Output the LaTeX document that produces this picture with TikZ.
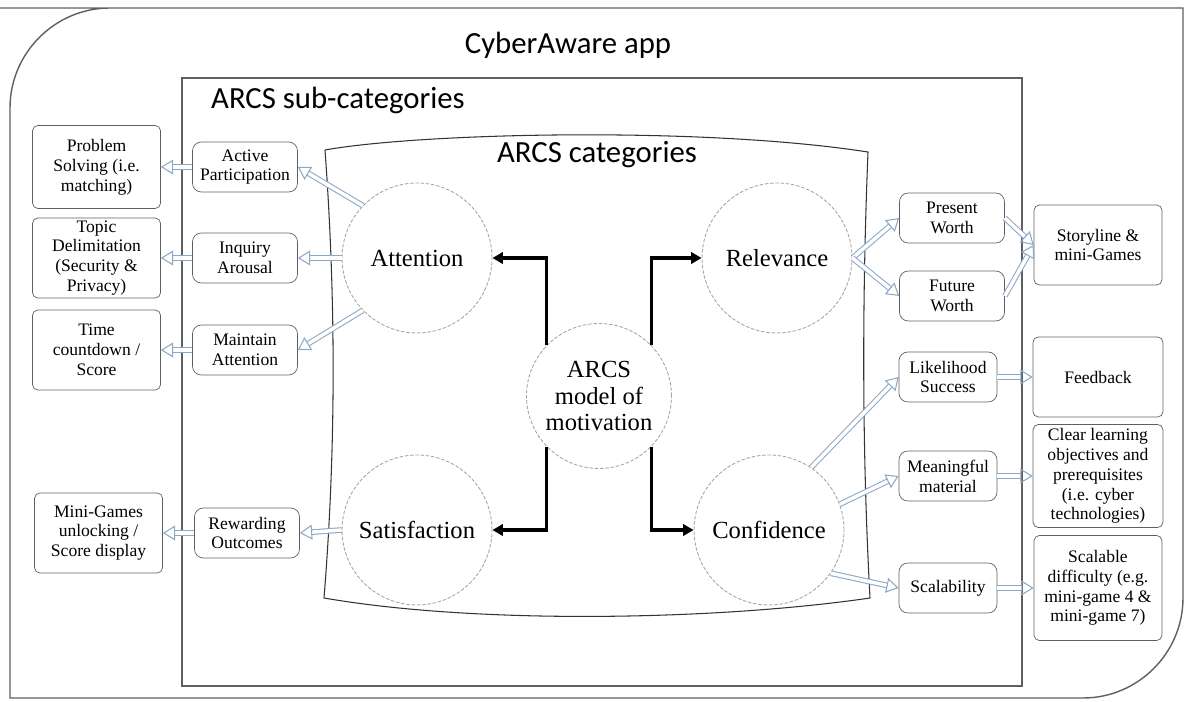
\documentclass[tikz,border=0pt]{standalone}
\usepackage{fontspec}
\setmainfont{Liberation Serif}
\newfontfamily\headfont{Carlito}
\usetikzlibrary{arrows.meta,positioning}
\definecolor{holblue}{RGB}{140,168,198}
\definecolor{boxgray}{RGB}{95,95,95}

\begin{document}
\begin{tikzpicture}[x=0.02cm,y=-0.02cm,on grid,
   cat/.style={circle,draw=gray!70,dash pattern=on 2pt off 1pt,line width=0.5pt,
               minimum size=3cm,inner sep=0pt,align=center,font=\fontsize{14}{15}\selectfont},
   sub/.style={draw=boxgray,rounded corners=5pt,minimum width=2.1cm,minimum height=1cm,
               inner sep=1pt,align=center,font=\fontsize{10}{11.3}\selectfont},
   game/.style={draw=boxgray,rounded corners=3pt,minimum width=2.56cm,minimum height=1.6cm,
               inner sep=1pt,align=center,font=\fontsize{10}{11.3}\selectfont},
   hol/.style={draw=holblue,line width=0.6pt,double=white,double distance=2pt,
               -{Triangle[open,length=7pt,width=8.5pt]}},
   blk/.style={line width=2pt,-{Triangle[length=6pt,width=6.5pt]}},
   title/.style={font=\headfont\fontsize{17.5}{20}\selectfont}]
   \useasboundingbox (0,0) rectangle (1188,702);

   % frames
   \draw[boxgray,line width=0.8pt] (0,8) -- (1183,8) -- (1183,598)
        .. controls (1183,653) and (1138,698) .. (1083,698) -- (10,698) -- (10,108)
        .. controls (10,53) and (55,8) .. (110,8);
   \draw[boxgray,line width=0.7pt] (182,78) rectangle (1022,686);
   \draw[black!80,line width=0.6pt] (325,150) .. controls (420,133) and (700,126) .. (868,152)
        .. controls (862,300) and (862,450) .. (870,598)
        .. controls (720,620) and (480,625) .. (324,598)
        .. controls (336,450) and (336,300) .. (325,150);

   \node[title] (app) at (568,45) {CyberAware app};
   \node[title,anchor=west] (subt) at (205,100) {ARCS sub-categories};
   \node[title] (catt) at (597,155) {ARCS categories};

   % categories
   \node[cat] (att) at (417,258) {Attention};
   \node[cat] (rel) at (777,258) {Relevance};
   \node[cat,minimum size=2.9cm] (arcs) at (599,396) {ARCS\\model of\\motivation};
   \node[cat] (sat) at (417,530) {Satisfaction};
   \node[cat] (con) at (769,530) {Confidence};

   % sub-categories
   \node[sub] (ap) at (245,167) {Active\\Participation};
   \node[sub] (ia) at (245,258) {Inquiry\\Arousal};
   \node[sub] (ma) at (245,350) {Maintain\\Attention};
   \node[sub] (ro) at (247,533) {Rewarding\\Outcomes};
   \node[sub] (pw) at (952,218) {Present\\Worth};
   \node[sub] (fw) at (952,296) {Future\\Worth};
   \node[sub,minimum width=1.96cm] (ls) at (948,377) {Likelihood\\Success};
   \node[sub,minimum width=1.96cm] (mm) at (948,476) {Meaningful\\material};
   \node[sub,minimum width=1.96cm] (sc) at (948,588) {Scalability};

   % app features
   \node[game,minimum height=1.66cm] (ps) [left=2.97cm of ap] {Problem\\Solving (i.e.\\matching)};
   \node[game] (td) [left=2.97cm of ia] {Topic\\Delimitation\\(Security \&\\Privacy)};
   \node[game] (tc) [left=2.97cm of ma] {Time\\countdown /\\Score};
   \node[game] (mg) [left=2.97cm of ro] {Mini-Games\\unlocking /\\Score display};
   \node[game] (sm) at (1098,245) {Storyline \&\\mini-Games};
   \node[game,minimum width=2.6cm] (fb) [right=3cm of ls] {Feedback};
   \node[game,minimum width=2.6cm,minimum height=2.06cm] (cl) [right=3cm of mm]
        {Clear learning\\objectives and\\prerequisites\\(i.e. cyber\\technologies)};
   \node[game,minimum height=2.1cm] (sd) [right=3cm of sc]
        {Scalable\\difficulty (e.g.\\mini-game 4 \&\\mini-game 7)};

   \draw[blk] (arcs.136) |- (att);
   \draw[blk] (arcs.44) |- (rel);
   \draw[blk] (arcs.224) |- (sat);
   \draw[blk] (arcs.-44) |- (con);

   \path
    (att.136) edge[hol] (ap.east)
    (att.west) edge[hol] (ia.east)
    (att.224) edge[hol] (ma.east)
    (sat.west) edge[hol] (ro.east)
    (ap) edge[hol] (ps)
    (ia) edge[hol] (td)
    (ma) edge[hol] (tc)
    (ro) edge[hol] (mg)
    (rel.east) edge[hol] (pw.west)
               edge[hol] (fw.west)
    (pw.east) edge[hol] (sm.west)
    (fw.east) edge[hol] (sm.west)
    (con.56) edge[hol] (ls.west)
    (con.20) edge[hol] (mm.west)
    (con.-35) edge[hol] (sc.west)
    (ls) edge[hol] (fb)
    (mm) edge[hol] (cl)
    (sc) edge[hol] (sd);
\end{tikzpicture}
\end{document}
